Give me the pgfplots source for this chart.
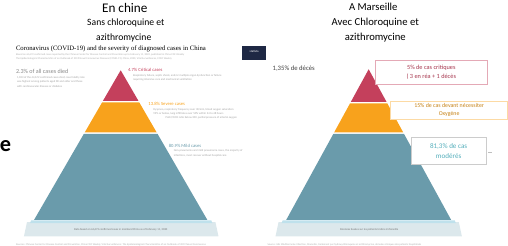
\documentclass[border=0pt]{standalone}
\usepackage{pgfplots}
\pgfplotsset{compat=1.18}
\usepackage{fontspec}
\setmainfont{Carlito}
\newfontfamily\serifm{Liberation Serif}
\definecolor{pred}{HTML}{C4405C}
\definecolor{porange}{HTML}{F8A21C}
\definecolor{pblue}{HTML}{6A9BAB}
\definecolor{pbase}{HTML}{DCE8EC}
\definecolor{pline}{HTML}{BFE1EC}
\definecolor{navy}{HTML}{1E2844}
\definecolor{tgray}{HTML}{8A8A8A}
\newcommand{\fs}[1]{\fontsize{#1}{#1}\selectfont}
\newcommand{\fb}[2]{\fontsize{#1}{#2}\selectfont}
\begin{document}
\begin{tikzpicture}
\begin{axis}[scale only axis, width=508bp, height=262bp,
  xmin=0, xmax=508, ymin=0, ymax=262, y dir=reverse,
  axis lines=none, clip=false]
% left pyramid
\addplot[fill=pbase, draw=none] coordinates {(26,228) (211,228) (214,242) (23,242)} -- cycle;
\addplot[fill=pline, draw=none] coordinates {(30,226.5) (207,226.5) (208,229) (29,229)} -- cycle;
\addplot[fill=pred, draw=none] coordinates {(118,79) (135.4,109) (100.6,109)} -- cycle;
\addplot[fill=porange, draw=none] coordinates {(99.8,110.5) (136.2,110.5) (153.3,140) (82.7,140)} -- cycle;
\addplot[fill=pblue, draw=none] coordinates {(81.8,141.5) (154.2,141.5) (203.1,226) (32.9,226)} -- cycle;
% right pyramid
\addplot[fill=pbase, draw=none] coordinates {(273,228) (450,228) (453,242) (270,242)} -- cycle;
\addplot[fill=pline, draw=none] coordinates {(277,226.5) (446,226.5) (447,229) (276,229)} -- cycle;
\addplot[fill=pred, draw=none] coordinates {(361.5,78) (379,110) (344,110)} -- cycle;
\addplot[fill=porange, draw=none] coordinates {(343.2,111.5) (379.8,111.5) (395.4,140) (327.6,140)} -- cycle;
\addplot[fill=pblue, draw=none] coordinates {(326.8,141.5) (396.2,141.5) (442.5,226) (280.5,226)} -- cycle;
% navy badge
\addplot[fill=navy, draw=none] coordinates {(237,55) (261,55) (261,69) (237,69)} -- cycle;
% boxes on the right
\addplot[draw=pred!45, fill=white, line width=0.6pt] coordinates {(368,69) (478,69) (478,93) (368,93)} -- cycle;
\addplot[draw=porange!40, fill=white, line width=0.6pt] coordinates {(383,109) (498,109) (498,127) (383,127)} -- cycle;
\addplot[draw=gray!40, fill=white, line width=0.6pt] coordinates {(403,145) (477,145) (477,171) (403,171)} -- cycle;
\addplot[draw=gray!50, line width=0.4pt] coordinates {(479,159) (483,159)};

% titles left
\node at (axis cs:122,18) {\fs{13}En chine};
\node at (axis cs:123,33) {\fs{9.5}Sans chloroquine et};
\node at (axis cs:121,47) {\fs{9.5}azithromycine};
\node[anchor=west, inner sep=0pt] at (axis cs:15,58) {\serifm\fs{6.6}Coronavirus (COVID-19) and the severity of diagnosed cases in China};
\node[anchor=west, inner sep=0pt, text=tgray!70, font=\fb{2.6}{4}, align=left] at (axis cs:15,66) {Based on 44,672 confirmed cases reported by the Chinese Center for Disease Control and Prevention up to February 11, 2020, published in China CDC Weekly\\The Epidemiological Characteristics of an Outbreak of 2019 Novel Coronavirus Diseases (COVID-19), China, 2020, Vital Surveillances, CCDC Weekly};
\node[text=white, inner sep=0pt, font=\fs{3}] at (axis cs:249,61) {statista};
% left labels
\node[anchor=west, inner sep=0pt, text=tgray] at (axis cs:15,80) {\fs{6}2.3\% of all cases died};
\node[anchor=north west, inner sep=0pt, text=tgray!80, align=left, font=\fb{2.8}{4.2}] at (axis cs:16,85) {1,023 of the 44,672 confirmed cases died; case fatality rate\\was highest among patients aged 80 and older and those\\with cardiovascular disease or diabetes};
\node[anchor=west, inner sep=0pt, text=pred] at (axis cs:125,79) {\fs{4.6}4.7\% Critical cases};
\node[anchor=north west, inner sep=0pt, text=tgray!80, align=left, font=\fb{2.8}{4.2}] at (axis cs:130,83) {Respiratory failure, septic shock, and/or multiple organ dysfunction or failure\\requiring intensive care and mechanical ventilation};
\node[anchor=west, inner sep=0pt, text=porange] at (axis cs:145,112) {\fs{4.6}13.8\% Severe cases};
\node[anchor=north west, inner sep=0pt, text=tgray!80, align=left, font=\fb{2.8}{4.2}] at (axis cs:150,116) {Dyspnea, respiratory frequency over 30/min, blood oxygen saturation\\93\% or below, lung infiltrates over 50\% within 24 to 48 hours\\\hspace{12pt}PaO2/FiO2 ratio below 300, partial pressure of arterial oxygen};
\node[anchor=west, inner sep=0pt, text=pblue] at (axis cs:165,153) {\fs{4.6}80.9\% Mild cases};
\node[anchor=north west, inner sep=0pt, text=tgray!80, align=left, font=\fb{2.8}{4.2}] at (axis cs:170,157) {Non-pneumonia and mild pneumonia cases, the majority of\\infections, most recover without hospital care};
\node[inner sep=0pt, text=gray!90!black] at (axis cs:118,235.5) {\fs{2.8}Data based on 44,672 confirmed cases in mainland China as of February 11, 2020};
\node[anchor=west, inner sep=0pt, text=tgray!70] at (axis cs:15,250) {\fs{2.6}Sources: Chinese Center for Disease Control and Prevention, China CDC Weekly, Vital Surveillances: The Epidemiological Characteristics of an Outbreak of 2019 Novel Coronavirus};
\node[anchor=center, inner sep=0pt] at (axis cs:5,153) {\fs{22}\bfseries e};
% titles right
\node at (axis cs:366,17) {\fs{10.5}A Marseille};
\node at (axis cs:368,32) {\fs{10.5}Avec Chloroquine et};
\node at (axis cs:368,47) {\fs{10.5}azithromycine};
\node[anchor=west, inner sep=0pt, text=black!75] at (axis cs:267,77) {\fs{6.6}1,35\% de décès};
\node[text=pred!85!black, align=center, inner sep=0pt, font=\fb{6.2}{9}] at (axis cs:423,81) {5\% de cas critiques\\( 3 en réa + 1 décès};
\node[text=porange!80!black, align=center, inner sep=0pt, font=\fb{5.8}{8}] at (axis cs:440.5,118) {15\% de cas devant nécessiter\\Oxygène};
\node[text=pblue!80!cyan, align=center, inner sep=0pt, font=\fb{7}{10}] at (axis cs:440,158) {81,3\% de cas\\modérés};
\node[inner sep=0pt, text=gray!90!black] at (axis cs:362,235.5) {\fs{2.8}Données basées sur les patients traités à Marseille};
\node[anchor=west, inner sep=0pt, text=tgray!70] at (axis cs:262,250) {\fs{2.6}Source: IHU Méditerranée Infection, Marseille, traitement par hydroxychloroquine et azithromycine, données cliniques des patients hospitalisés};
\end{axis}
\end{tikzpicture}
\end{document}
